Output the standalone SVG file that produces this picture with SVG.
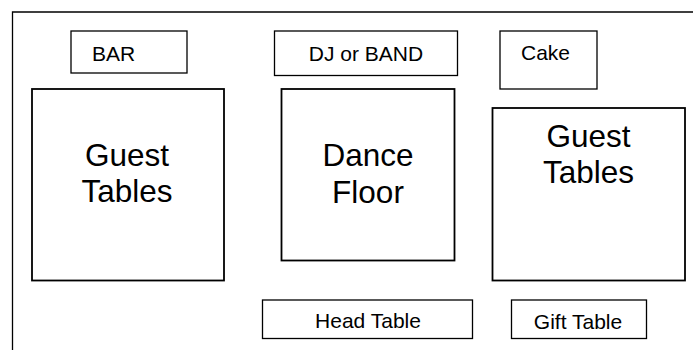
<svg xmlns="http://www.w3.org/2000/svg" width="693" height="350" viewBox="0 0 693 350">
<style>
.bg{fill:#fff}
.frame{fill:none;stroke:#000;stroke-width:1.3}
.box{fill:#fff;stroke:#000;stroke-width:1.3}
.big{fill:#fff;stroke:#000;stroke-width:1.8}
.sm{font-family:"Liberation Sans",Arial,sans-serif;font-size:21px;fill:#000}
.lg{font-family:"Liberation Sans",Arial,sans-serif;font-size:31.5px;fill:#000;text-anchor:middle}
.c{text-anchor:middle}
</style>
<rect class="bg" x="0" y="0" width="693" height="350"/>
<g id="room">
<path class="frame" d="M12.5,350 V12 H693"/>
</g>
<g id="bar">
<rect class="box" x="71" y="31" width="116" height="42"/>
<text class="sm" x="92" y="61">BAR</text>
</g>
<g id="dj">
<rect class="box" x="274.5" y="31" width="183" height="44.5"/>
<text class="sm c" x="366" y="61">DJ or BAND</text>
</g>
<g id="cake">
<rect class="box" x="500" y="31" width="97" height="58"/>
<text class="sm" x="521" y="60">Cake</text>
</g>
<g id="guest-left">
<rect class="big" x="32" y="89" width="192" height="191.5"/>
<text class="lg" x="127" y="166">Guest</text>
<text class="lg" x="127" y="202">Tables</text>
</g>
<g id="dance">
<rect class="big" x="281.5" y="89" width="173" height="171.5"/>
<text class="lg" x="368" y="166">Dance</text>
<text class="lg" x="368" y="202.5">Floor</text>
</g>
<g id="guest-right">
<rect class="big" x="492.5" y="108" width="192.5" height="172.5"/>
<text class="lg" x="588.5" y="146.5">Guest</text>
<text class="lg" x="588.5" y="182.5">Tables</text>
</g>
<g id="head">
<rect class="box" x="262.5" y="300" width="210" height="38.5"/>
<text class="sm c" x="368" y="328">Head Table</text>
</g>
<g id="gift">
<rect class="box" x="511.5" y="300" width="135" height="38.5"/>
<text class="sm c" x="578" y="329">Gift Table</text>
</g>
<g id="connectors"></g>
</svg>
